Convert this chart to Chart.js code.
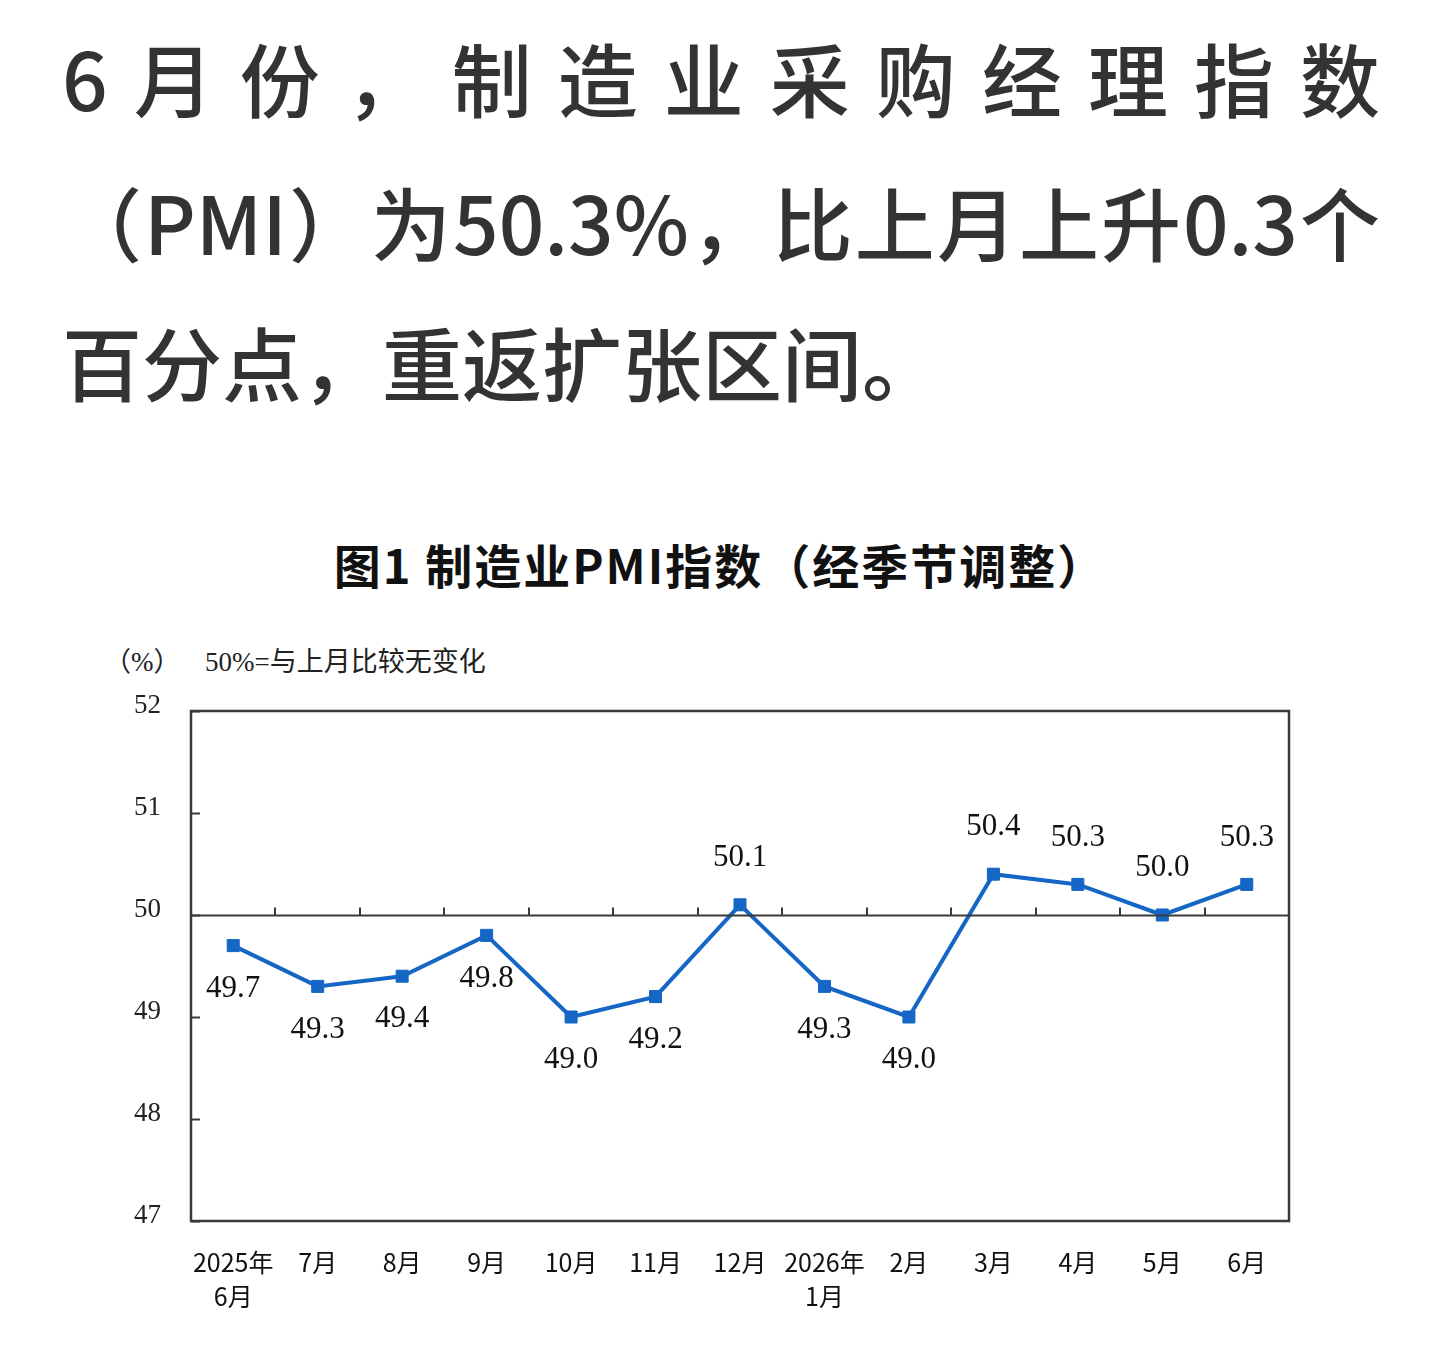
<!DOCTYPE html>
<html>
<head>
<meta charset="utf-8">
<script src="https://cdn.jsdelivr.net/npm/chart.js@4/dist/chart.umd.min.js"></script>
<style>
  html, body { margin: 0; padding: 0; background: #fff; }
  body { width: 1440px; height: 1369px; position: relative; overflow: hidden; }
  .hl { position: absolute; left: 62px; width: 1318px; font-family: "Noto Sans CJK SC", "Noto Sans", sans-serif;
        font-size: 80px; font-weight: 500; color: #333; white-space: nowrap; line-height: 1; }
  .just { text-align: justify; text-align-last: justify; white-space: normal; }
  #title { position: absolute; left: 0; width: 1440px; top: 540px; text-align: center;
           font-family: "Noto Sans CJK SC", sans-serif; font-weight: 700; font-size: 47px; letter-spacing: 2px; color: #111; line-height: 1; }
  .unit { position: absolute; top: 649px; font-family: "Liberation Serif", "Noto Sans CJK SC", serif;
          font-size: 27px; color: #222; white-space: pre; line-height: 1; }
  #wrap { position: absolute; left: 0; top: 680px; width: 1440px; height: 660px; }
</style>
</head>
<body>
<div class="hl just" style="top:36px;">6月份，制造业采购经理指数</div>
<div class="hl just" style="top:180px;">（PMI）为50.3%，比上月上升0.3个</div>
<div class="hl" style="top:320px;">百分点，重返扩张区间。</div>
<div id="title">图1 制造业PMI指数（经季节调整）</div>
<div class="unit" style="left:104px;">（%）</div>
<div class="unit" style="left:205px;">50%=与上月比较无变化</div>
<div id="wrap"><canvas id="c" width="1440" height="660"></canvas></div>
<script>
const categories = [["2025年","6月"],"7月","8月","9月","10月","11月","12月",["2026年","1月"],"2月","3月","4月","5月","6月"];
const pmiValues = [49.7, 49.3, 49.4, 49.8, 49.0, 49.2, 50.1, 49.3, 49.0, 50.4, 50.3, 50.0, 50.3];
const yTicks = [47, 48, 49, 50, 51, 52];
const baseline = 50;

const blue = '#1666C5';
const frameColor = '#3a3a3a';

const framePlugin = {
  id: 'frame',
  afterDatasetsDraw(chart) {
    const { ctx, chartArea: a, scales: { x, y } } = chart;
    ctx.save();
    const yb = Math.round(y.getPixelForValue(baseline)) + 0.5;
    ctx.strokeStyle = frameColor;
    ctx.lineWidth = 2;
    ctx.beginPath();
    ctx.moveTo(a.left, yb); ctx.lineTo(a.right, yb);
    ctx.stroke();
    for (let i = 0; i < categories.length - 1; i++) {
      const xm = Math.round((x.getPixelForValue(i) + x.getPixelForValue(i + 1)) / 2);
      ctx.beginPath();
      ctx.moveTo(xm, yb); ctx.lineTo(xm, yb - 8);
      ctx.stroke();
    }
    yTicks.forEach(v => {
      const yy = Math.round(y.getPixelForValue(v)) + 0.5;
      ctx.beginPath();
      ctx.moveTo(a.left, yy); ctx.lineTo(a.left + 9, yy);
      ctx.stroke();
    });
    ctx.lineWidth = 2.5;
    ctx.strokeRect(a.left, a.top, a.right - a.left, a.bottom - a.top);
    ctx.restore();
  },
  afterDraw(chart) {
    const { ctx, scales: { x, y } } = chart;
    ctx.save();
    ctx.font = '31px "Liberation Serif", "Times New Roman", serif';
    ctx.fillStyle = '#111';
    ctx.textAlign = 'center';
    ctx.textBaseline = 'middle';
    pmiValues.forEach((v, i) => {
      const px = x.getPixelForValue(i);
      const py = y.getPixelForValue(v);
      const above = v >= baseline;
      ctx.fillText(v.toFixed(1), px, above ? py - 47 : py + 43);
    });
    ctx.restore();
  }
};

new Chart(document.getElementById('c'), {
  type: 'line',
  data: {
    labels: categories,
    datasets: [{
      data: pmiValues,
      borderColor: blue,
      backgroundColor: blue,
      borderWidth: 4,
      pointStyle: 'rect',
      pointRadius: 8.5,
      pointBorderWidth: 1,
      pointBackgroundColor: blue,
      pointBorderColor: blue,
      tension: 0,
      clip: false
    }]
  },
  options: {
    responsive: false,
    animation: false,
    layout: { padding: { left: 0, right: 151, top: 31, bottom: 0 } },
    plugins: { legend: { display: false }, tooltip: { enabled: false } },
    scales: {
      x: {
        type: 'category',
        offset: true,
        grid: { display: false, drawTicks: false },
        border: { display: false },
        ticks: {
          padding: 24,
          maxRotation: 0,
          autoSkip: false,
          color: '#111',
          font: { family: '"Noto Sans CJK SC", sans-serif', size: 25, lineHeight: 1.36 }
        },
        afterFit(s) { s.height = 119; s.paddingLeft = 0; s.paddingRight = 0; }
      },
      y: {
        min: 47, max: 52,
        afterBuildTicks(s) { s.ticks = yTicks.map(v => ({ value: v })); },
        grid: { display: false, drawTicks: false },
        border: { display: false },
        ticks: {
          padding: 30,
          labelOffset: -5,
          color: '#222',
          font: { family: '"Liberation Serif", "Times New Roman", serif', size: 27 }
        },
        afterFit(s) { s.width = 191; s.paddingTop = 0; s.paddingBottom = 0; }
      }
    }
  },
  plugins: [framePlugin]
});
</script>
</body>
</html>
